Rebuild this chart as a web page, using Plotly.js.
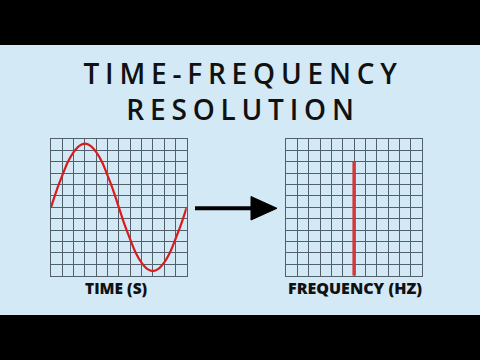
<!DOCTYPE html>
<html>
<head>
<meta charset="utf-8">
<script src="https://cdn.plot.ly/plotly-3.0.1.min.js"></script>
<style>
html,body{margin:0;padding:0;background:#d3e9f6;}
#chart{width:480px;height:360px;}
.gtitle{letter-spacing:5.8px;}
</style>
</head>
<body>
<div id="chart"></div>
<script>
// Time-domain signal, grid units
const timeX = [0,0.5,1,1.5,2,2.5,3,3.5,4,4.5,5,5.5,6,6.5,7,7.5,8,8.5,9,9.5,10,10.5,11,11.5,12];
const timeY = [0,1.5,2.8,4.0,4.85,5.4,5.6,5.4,4.85,4.0,2.8,1.5,0,-1.5,-2.8,-4.0,-4.85,-5.4,-5.6,-5.4,-4.85,-4.0,-2.8,-1.5,0];
// Frequency-domain spike
const freqX = [6,6];
const freqY = [0,10];
// Texts
const titleText = 'TIME-FREQUENCY<br>RESOLUTION';
const leftLabel = 'TIME (S)';
const rightLabel = 'FREQUENCY (HZ)';

const W = 480, H = 360;
const px = x => x / W;
const py = y => 1 - y / H;

const bg = '#d3e9f6';
const gridCol = '#52606c';

function gridAxis(domain, range, anchor){
  return {
    domain: domain, range: range, anchor: anchor,
    dtick: 1, tick0: range[0], showgrid: true, gridcolor: gridCol, gridwidth: 1,
    zeroline: false, showticklabels: false, ticks: '',
    showline: true, mirror: true, linecolor: gridCol, linewidth: 1,
    fixedrange: true
  };
}

const traces = [
  {x: timeX, y: timeY, type: 'scatter', mode: 'lines', xaxis: 'x', yaxis: 'y',
   line: {color: '#d81c1c', width: 2.2, shape: 'spline'}, hoverinfo: 'skip'},
  {x: freqX, y: freqY, type: 'scatter', mode: 'lines', xaxis: 'x2', yaxis: 'y2',
   line: {color: '#d23a3a', width: 3.5}, hoverinfo: 'skip'}
];

const layout = {
  width: W, height: H,
  margin: {l: 0, r: 0, t: 0, b: 0, pad: 0},
  paper_bgcolor: bg, plot_bgcolor: 'rgba(0,0,0,0)',
  showlegend: false,
  title: {
    text: titleText, x: px(243), xanchor: 'center', y: py(84), yanchor: 'top',
    font: {family: 'Open Sans', size: 28, color: '#111111', weight: 600}
  },
  xaxis: gridAxis([px(51), px(186.7)], [0, 12], 'y'),
  yaxis: gridAxis([py(275.7), py(139)], [-6, 6], 'x'),
  xaxis2: gridAxis([px(286), px(422.3)], [0, 12], 'y2'),
  yaxis2: gridAxis([py(275.7), py(139)], [0, 12], 'x2'),
  shapes: [
    {type: 'rect', xref: 'paper', yref: 'paper', x0: 0, x1: 1, y0: py(45), y1: 1,
     fillcolor: '#000000', line: {width: 0}, layer: 'below'},
    {type: 'rect', xref: 'paper', yref: 'paper', x0: 0, x1: 1, y0: 0, y1: py(315),
     fillcolor: '#000000', line: {width: 0}, layer: 'below'},
    {type: 'line', xref: 'paper', yref: 'paper', x0: px(195), x1: px(256), y0: py(208.3), y1: py(208.3),
     line: {color: '#000000', width: 4}},
    {type: 'path', xref: 'paper', yref: 'paper',
     path: 'M ' + px(251) + ' ' + py(196.5) + ' L ' + px(277) + ' ' + py(208.3) + ' L ' + px(251) + ' ' + py(220) + ' Z',
     fillcolor: '#000000', line: {color: '#000000', width: 1}}
  ],
  annotations: [
    {text: leftLabel, xref: 'paper', yref: 'paper', x: px(116), y: py(288), xanchor: 'center', yanchor: 'middle',
     showarrow: false, font: {family: 'Open Sans', size: 15.5, color: '#111111', weight: 800}},
    {text: rightLabel, xref: 'paper', yref: 'paper', x: px(355), y: py(288), xanchor: 'center', yanchor: 'middle',
     showarrow: false, font: {family: 'Open Sans', size: 16, color: '#111111', weight: 800}}
  ]
};

Plotly.newPlot('chart', traces, layout, {displayModeBar: false, staticPlot: true});
</script>
</body>
</html>
